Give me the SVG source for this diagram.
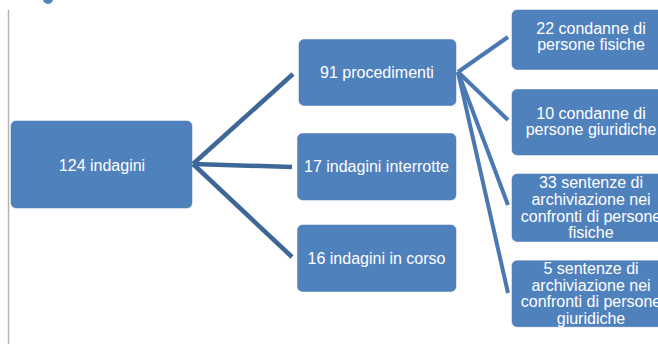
<svg xmlns="http://www.w3.org/2000/svg" width="658" height="344" viewBox="0 0 658 344">
<style>
.box{fill:#4f81bd;stroke:#4a7ab3;stroke-width:0.5}
.t{font-family:"Liberation Sans",Arial,sans-serif;font-size:16px;fill:#ffffff;text-anchor:middle}
.c1{stroke:#3d6798;stroke-width:4.5;fill:none;stroke-linecap:butt}
.c2{stroke:#4a78b2;stroke-width:4;fill:none;stroke-linecap:butt}
</style>
<rect width="658" height="344" fill="#ffffff"/>
<line x1="8.5" y1="10" x2="8.5" y2="344" stroke="#b4b4b4" stroke-width="1.5"/>
<circle cx="48" cy="-1" r="5" fill="#4f81bd"/>
<g id="connectors">
<line class="c1" x1="193" y1="164" x2="293" y2="74"/>
<line class="c1" x1="193" y1="164" x2="292" y2="167"/>
<line class="c1" x1="193" y1="164" x2="292" y2="257"/>
<line class="c2" x1="458" y1="72" x2="508" y2="37"/>
<line class="c2" x1="458" y1="72" x2="508" y2="120"/>
<line class="c2" x1="458" y1="72" x2="508" y2="205"/>
<line class="c2" x1="458" y1="72" x2="508" y2="293"/>
</g>
<g id="n124">
<rect class="box" x="11" y="121" width="181" height="87" rx="5"/>
<text class="t" x="102" y="170.5">124 indagini</text>
</g>
<g id="n91">
<rect class="box" x="299" y="39.5" width="157" height="66" rx="5"/>
<text class="t" x="377" y="78">91 procedimenti</text>
</g>
<g id="n17">
<rect class="box" x="297.5" y="133.5" width="158.5" height="66.5" rx="5"/>
<text class="t" x="376.5" y="172">17 indagini interrotte</text>
</g>
<g id="n16">
<rect class="box" x="297.5" y="225" width="158.5" height="66.5" rx="5"/>
<text class="t" x="376.5" y="264">16 indagini in corso</text>
</g>
<g id="n22">
<rect class="box" x="512" y="10" width="160" height="59.5" rx="5"/>
<text class="t" x="591"><tspan x="591" y="34">22 condanne di</tspan><tspan x="591" y="49.5">persone fisiche</tspan></text>
</g>
<g id="n10">
<rect class="box" x="512" y="89.5" width="160" height="65.5" rx="5"/>
<text class="t" x="591"><tspan x="591" y="118.5">10 condanne di</tspan><tspan x="591" y="134.5">persone giuridiche</tspan></text>
</g>
<g id="n33">
<rect class="box" x="512" y="174" width="160" height="67.5" rx="5"/>
<text class="t" x="591"><tspan x="591" y="188.3">33 sentenze di</tspan><tspan x="591" y="205">archiviazione nei</tspan><tspan x="591" y="221.7">confronti di persone</tspan><tspan x="591" y="238.4">fisiche</tspan></text>
</g>
<g id="n5">
<rect class="box" x="512" y="260.7" width="160" height="66" rx="5"/>
<text class="t" x="591"><tspan x="591" y="274">5 sentenze di</tspan><tspan x="591" y="290.5">archiviazione nei</tspan><tspan x="591" y="307">confronti di persone</tspan><tspan x="591" y="323.7">giuridiche</tspan></text>
</g>
</svg>
